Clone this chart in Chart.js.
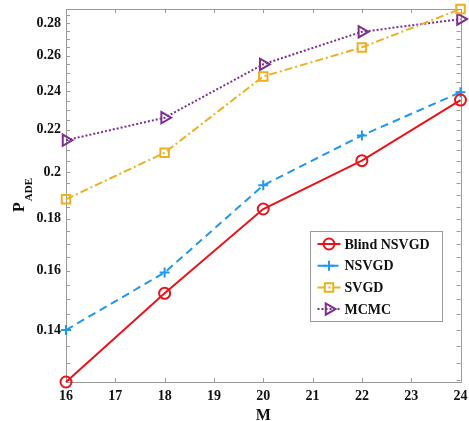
<!DOCTYPE html>
<html>
<head>
<meta charset="utf-8">
<script src="https://cdn.jsdelivr.net/npm/chart.js@4.4.0/dist/chart.umd.min.js"></script>
<style>
body{margin:0;background:#fff;}
#wrap{width:469px;height:421px;position:relative;}
</style>
</head>
<body>
<div id="wrap"><canvas id="myChart"></canvas></div>
<script>
// values (log y axis)
var mValues=[16,18,20,22,24];
var blindNSVGD=[0.1245,0.1521,0.184,0.2052,0.2353];
var nsvgd=[0.14,0.1594,0.1941,0.2172,0.2395];
var svgd=[0.1881,0.2089,0.2482,0.265,0.289];
var mcmc=[0.2149,0.2261,0.2551,0.2745,0.2825];

var yMajorTicks=[0.14,0.16,0.18,0.2,0.22,0.24,0.26,0.28];
var yMinorTicks=[0.125,0.13,0.135,0.145,0.15,0.155,0.165,0.17,0.175,0.185,0.19,0.195,
                 0.205,0.21,0.215,0.225,0.23,0.235,0.245,0.25,0.255,0.265,0.27,0.275,0.285];

var serif='"Liberation Serif","Times New Roman",serif';
var axisGray='#9a9a9a';

function pts(vals){
    return mValues.map(function(m,i){return {x:m,y:vals[i]};});
}

var chartdata={
    datasets:[
        {label:'Blind NSVGD',data:pts(blindNSVGD),borderColor:'#e8141c',borderWidth:2,
         pointStyle:'circle',pointRadius:5.5,pointBorderWidth:2,pointBorderColor:'#e8141c',
         pointBackgroundColor:'rgba(0,0,0,0)',borderDash:[],clip:false},
        {label:'NSVGD',data:pts(nsvgd),borderColor:'#1f98ee',borderWidth:2,
         pointStyle:'cross',pointRadius:5,pointBorderWidth:2,pointBorderColor:'#1f98ee',
         pointBackgroundColor:'rgba(0,0,0,0)',borderDash:[8,5],clip:false},
        {label:'SVGD',data:pts(svgd),borderColor:'#ecb020',borderWidth:2,
         pointStyle:'rect',pointRadius:6,pointBorderWidth:2,pointBorderColor:'#ecb020',
         pointBackgroundColor:'rgba(0,0,0,0)',borderDash:[8,3,2,3],clip:false},
        {label:'MCMC',data:pts(mcmc),borderColor:'#7e2f8e',borderWidth:2,
         pointStyle:'triangle',pointRotation:90,pointRadius:6.5,pointBorderWidth:2,pointBorderColor:'#7e2f8e',
         pointBackgroundColor:'rgba(0,0,0,0)',borderDash:[2,2],clip:false}
    ]
};

// box, inward ticks on all four sides, y title and legend
var framePlugin={
    id:'frame',
    beforeDatasetsDraw:function(chart){
        var ctx=chart.ctx,a=chart.chartArea,xs=chart.scales.x,ys=chart.scales.y;
        ctx.save();
        ctx.strokeStyle=axisGray;
        ctx.lineWidth=1;
        ctx.strokeRect(Math.round(a.left)+0.5,Math.round(a.top)+0.5,
            Math.round(a.right-a.left),Math.round(a.bottom-a.top));
        ctx.beginPath();
        xs.ticks.forEach(function(t){
            var x=Math.round(xs.getPixelForValue(t.value))+0.5;
            ctx.moveTo(x,a.bottom);ctx.lineTo(x,a.bottom-4);
            ctx.moveTo(x,a.top);ctx.lineTo(x,a.top+4);
        });
        ys.ticks.forEach(function(t){
            var y=Math.round(ys.getPixelForValue(t.value))+0.5;
            ctx.moveTo(a.left,y);ctx.lineTo(a.left+4,y);
            ctx.moveTo(a.right,y);ctx.lineTo(a.right-4,y);
        });
        ctx.stroke();
        ctx.restore();
    },
    afterDraw:function(chart){
        var ctx=chart.ctx,a=chart.chartArea;
        // y label P_ADE
        ctx.save();
        ctx.fillStyle='#111';
        ctx.translate(24,212);
        ctx.rotate(-Math.PI/2);
        ctx.textBaseline='alphabetic';
        ctx.textAlign='left';
        ctx.font='bold 16px '+serif;
        ctx.fillText('P',0,0);
        var w=ctx.measureText('P').width;
        ctx.font='bold 11px '+serif;
        ctx.fillText('ADE',w+1,8);
        ctx.restore();

        // legend
        var bx=a.right-151,by=a.top+222,bw=132,bh=90;
        ctx.save();
        ctx.fillStyle='#fff';
        ctx.fillRect(bx,by,bw,bh);
        ctx.strokeStyle=axisGray;
        ctx.lineWidth=1;
        ctx.strokeRect(Math.round(bx)+0.5,Math.round(by)+0.5,bw,bh);
        chart.data.datasets.forEach(function(ds,i){
            var cy=by+13+i*21.7;
            ctx.strokeStyle=ds.borderColor;
            ctx.lineWidth=2;
            ctx.setLineDash(ds.borderDash);
            ctx.beginPath();
            ctx.moveTo(bx+8,cy);ctx.lineTo(bx+31,cy);
            ctx.stroke();
            ctx.setLineDash([]);
            ctx.fillStyle='rgba(0,0,0,0)';
            ctx.strokeStyle=ds.borderColor;
            Chart.helpers.drawPoint(ctx,{pointStyle:ds.pointStyle,rotation:ds.pointRotation||0,
                radius:ds.pointRadius,borderWidth:2},bx+19.5,cy);
            ctx.fillStyle='#111';
            ctx.font='bold 14px '+serif;
            ctx.textBaseline='middle';
            ctx.textAlign='left';
            ctx.fillText(ds.label,bx+35,cy+1);
        });
        ctx.restore();
    }
};

var options={
    responsive:true,
    maintainAspectRatio:false,
    animation:false,
    layout:{padding:{top:9,right:5,left:0,bottom:0}},
    plugins:{legend:{display:false},tooltip:{enabled:false}},
    scales:{
        x:{
            type:'linear',min:16,max:24,
            grid:{display:false,drawTicks:false},border:{display:false},
            ticks:{stepSize:1,padding:6,color:'#111',font:{family:serif,size:14,weight:'bold'}},
            title:{display:true,text:'M',color:'#111',padding:{top:0,bottom:-3},font:{family:serif,size:16,weight:'bold',lineHeight:1}},
            afterFit:function(s){s.height=39;s.paddingLeft=0;s.paddingRight=0;}
        },
        y:{
            type:'logarithmic',min:0.1245,max:0.289,
            grid:{display:false,drawTicks:false},border:{display:false},
            afterBuildTicks:function(s){
                s.ticks=yMajorTicks.concat(yMinorTicks).sort(function(p,q){return p-q;})
                    .map(function(v){return {value:v};});
            },
            ticks:{padding:5,color:'#111',autoSkip:false,font:{family:serif,size:14,weight:'bold'},
                callback:function(v){return yMajorTicks.indexOf(v)>=0?String(v):'';}},
            afterFit:function(s){s.width=66;s.paddingTop=0;s.paddingBottom=0;}
        }
    }
};

var graph=new Chart(document.getElementById('myChart'),{
    type:'line',
    data:chartdata,
    options:options,
    plugins:[framePlugin]
});
</script>
</body>
</html>
